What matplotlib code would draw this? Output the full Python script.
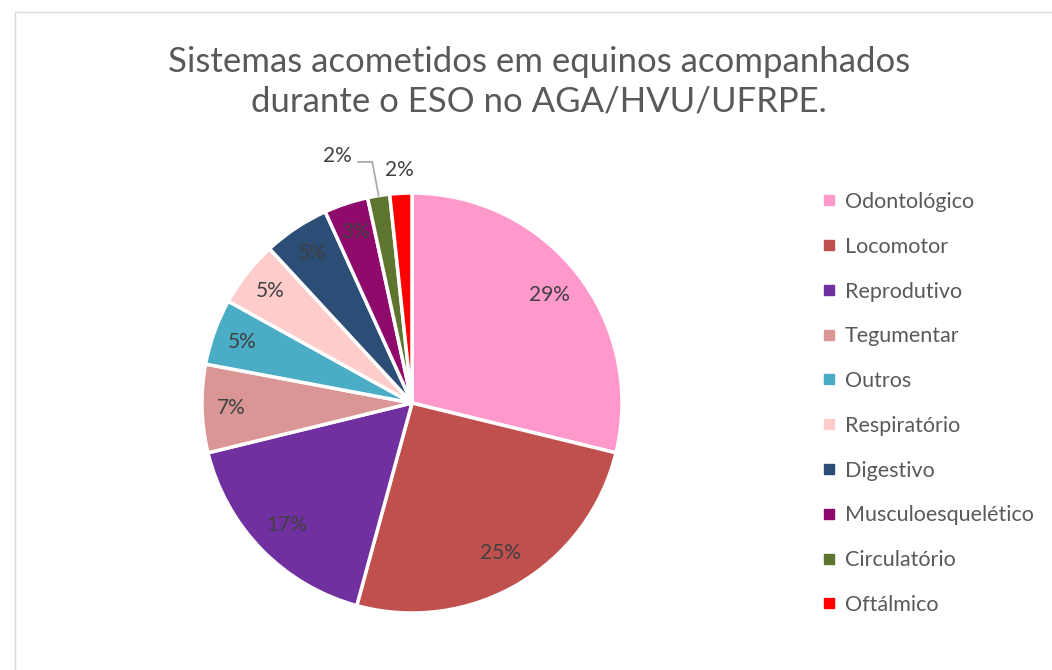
import matplotlib
matplotlib.use("Agg")
import matplotlib.pyplot as plt
from matplotlib.lines import Line2D
from matplotlib.patches import Rectangle
import numpy as np

plt.rcParams['font.family'] = ['Lato', 'DejaVu Sans']

categories = ["Odontológico", "Locomotor", "Reprodutivo", "Tegumentar", "Outros",
              "Respiratório", "Digestivo", "Musculoesquelético", "Circulatório", "Oftálmico"]
counts = [17, 15, 10, 4, 3, 3, 3, 2, 1, 1]
colors = ["#FF99CC", "#C0504D", "#7030A0", "#D99694", "#4BACC6",
          "#FFCCCC", "#2C4D75", "#8E0A6B", "#5E7530", "#FF0000"]
title = "Sistemas acometidos em equinos acompanhados\ndurante o ESO no AGA/HVU/UFRPE."

W, H = 1052, 670
fig = plt.figure(figsize=(W / 100, H / 100), dpi=100)
fig.patch.set_facecolor("white")

# chart frame
fig.add_artist(Rectangle((15 / W, -0.05), 1.2, (H - 12) / H + 0.05, transform=fig.transFigure,
                         fill=False, edgecolor="#D9D9D9", linewidth=1.0))

cx, cy, r = 412, 403, 210
ax = fig.add_axes([(cx - r) / W, (H - cy - r) / H, 2 * r / W, 2 * r / H])
total = sum(counts)
pcts = [c / total * 100 for c in counts]

wedges, _ = ax.pie(counts, colors=colors, startangle=90, counterclock=False,
                   wedgeprops=dict(edgecolor="white", linewidth=2.5), radius=1)
ax.set_xlim(-1, 1)
ax.set_ylim(-1, 1)
ax.set_aspect("equal")
ax.axis("off")

lab_color = "#404040"
fs_lab = 15
for i, (w, p) in enumerate(zip(wedges, pcts)):
    mid = np.deg2rad((w.theta1 + w.theta2) / 2)
    txt = f"{p:.0f}%"
    if p >= 3:
        d = 0.83 if p > 10 else 0.86
        ax.text(d * np.cos(mid), d * np.sin(mid), txt, ha="center", va="center",
                fontsize=fs_lab, color=lab_color)
    elif i == len(counts) - 1:
        ax.text(1.11 * np.cos(mid), 1.11 * np.sin(mid), txt, ha="center", va="center",
                fontsize=fs_lab, color=lab_color, clip_on=False)
    else:
        ex, ey = 1.0 * np.cos(mid), 1.0 * np.sin(mid)
        ly = 1.148
        lx_elbow = ex - 0.03
        ax.plot([ex, lx_elbow, -0.257], [ey, ly, ly], color="#A6A6A6", lw=1.2,
                clip_on=False, solid_joinstyle="miter")
        ax.text(-0.357, 1.178, txt, ha="center", va="center",
                fontsize=fs_lab, color=lab_color, clip_on=False)

fig.text(539 / W, (H - 82) / H, title, ha="center", va="center", fontsize=25,
         color="#595959", linespacing=1.28)

handles = [Line2D([0], [0], marker="s", linestyle="none", markersize=7,
                  markerfacecolor=c, markeredgecolor=c) for c in colors]
leg = fig.legend(handles, categories, loc="upper left",
                 bbox_to_anchor=(823 / W, (H - 192) / H), frameon=False,
                 fontsize=15.5, labelcolor="#595959", handlelength=0.55,
                 handletextpad=0.45, labelspacing=1.15, borderaxespad=0, borderpad=0)

fig.savefig("out.png", dpi=100, facecolor="white")
